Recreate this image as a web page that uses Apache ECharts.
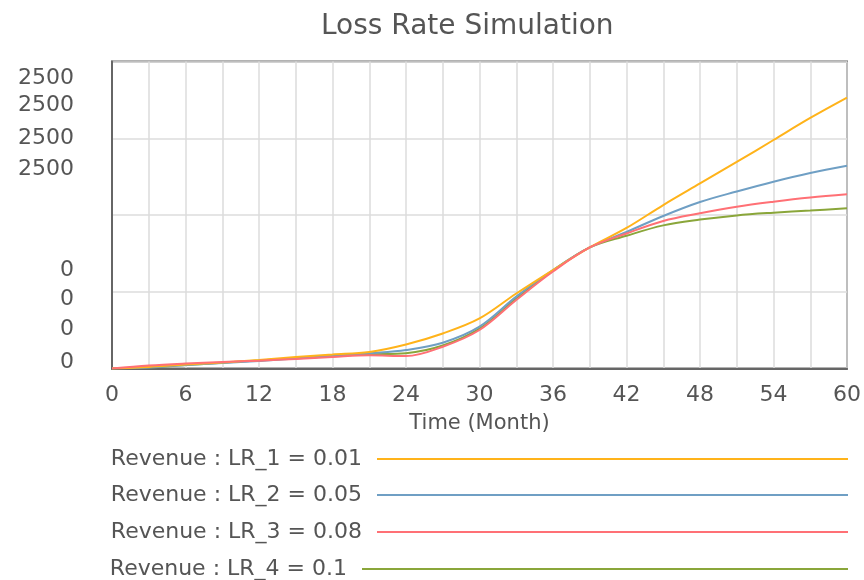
<!DOCTYPE html>
<html>
<head>
<meta charset="utf-8">
<script src="https://cdn.jsdelivr.net/npm/echarts@6/dist/echarts.min.js"></script>
<style>html,body{margin:0;padding:0;background:#fff}#c{width:864px;height:580px}</style>
</head>
<body>
<div id="c"></div>
<script>
const months = [0,3,6,9,12,15,18,21,24,27,30,33,36,39,42,45,48,51,54,57,60];
const lr1 = [0,20,52,78,111,150,182,215,313,456,652,977,1283,1577,1831,2130,2411,2691,2977,3264,3529];
const lr2 = [0,13,46,72,98,130,163,198,241,336,545,936,1283,1577,1779,1987,2169,2306,2434,2547,2642];
const lr3 = [0,39,65,85,102,124,150,172,163,284,502,893,1264,1577,1759,1922,2022,2108,2173,2228,2270];
const lr4 = [0,15,45,75,105,135,160,185,200,300,520,910,1275,1577,1730,1865,1940,1995,2030,2058,2087];
const seriesNames = ['Revenue : LR_1 = 0.01','Revenue : LR_2 = 0.05','Revenue : LR_3 = 0.08','Revenue : LR_4 = 0.1'];
const yTickValues = [3785,3429,3003,2595,1280,902,506,85];
const yTickLabels = ['2500','2500','2500','2500','0','0','0','0'];
const colors = ['#FFB31A','#6F9FC4','#FF7075','#8AA63A'];

const font = 'DejaVu Sans';
const pair = a => months.map((m,i)=>[m,a[i]]);
const dataSets = [lr1,lr2,lr3,lr4];
const drawOrder = [3,1,0,2];
const series = drawOrder.map(i => ({
  name: seriesNames[i], type:'line', data: pair(dataSets[i]), smooth: 0.35,
  symbol:'none', lineStyle:{color:colors[i], width:2}, itemStyle:{color:colors[i]}
}));
const legendTops = [448,484,521,558];
const legendWidths = [471,471,471,486];
const legends = seriesNames.map((n,i)=>({
  data:[n], right:16, top:legendTops[i], align:'right', icon:'rect', padding:0,
  itemWidth:legendWidths[i], itemHeight:2, selectedMode:false,
  textStyle:{fontFamily:font, fontSize:22, color:'#555', padding:[0,10,0,0]}
}));
const chart = echarts.init(document.getElementById('c'));
chart.setOption({
  animation:false,
  title:{text:'Loss Rate Simulation', left:316, top:8, textStyle:{fontFamily:font, fontSize:28, fontWeight:'normal', color:'#555'}},
  legend: legends,
  grid:{left:112, right:17, top:61.5, bottom:211.5, show:true, borderColor:'#666', borderWidth:2, containLabel:false},
  xAxis:{type:'value', min:0, max:60, interval:6,
    name:'Time (Month)', nameLocation:'middle', nameGap:45,
    nameTextStyle:{fontFamily:font, fontSize:21, color:'#555'},
    axisLine:{show:true, lineStyle:{color:'#666', width:2}}, axisTick:{show:false},
    axisLabel:{fontFamily:font, fontSize:22, color:'#555', margin:16},
    splitLine:{show:true, lineStyle:{color:'#dcdcdc', width:1.5}},
    minorTick:{show:false, splitNumber:2},
    minorSplitLine:{show:true, lineStyle:{color:'#dcdcdc', width:1.5}}
  },
  yAxis:[
    {type:'value', min:0, max:4000, interval:1000,
     axisLine:{show:true, lineStyle:{color:'#666', width:2}}, axisTick:{show:false}, axisLabel:{show:false},
     splitLine:{show:true, lineStyle:{color:'#dcdcdc', width:1.5}}},
    {type:'value', min:0, max:4000, position:'left',
     axisLine:{show:false}, axisTick:{show:false}, splitLine:{show:false},
     axisLabel:{customValues:yTickValues, fontFamily:font, fontSize:22, color:'#555', margin:38,
       formatter:(v)=>{const k=yTickValues.indexOf(v); return k>=0?yTickLabels[k]:'';}}}
  ],
  series: series
});
</script>
</body>
</html>
